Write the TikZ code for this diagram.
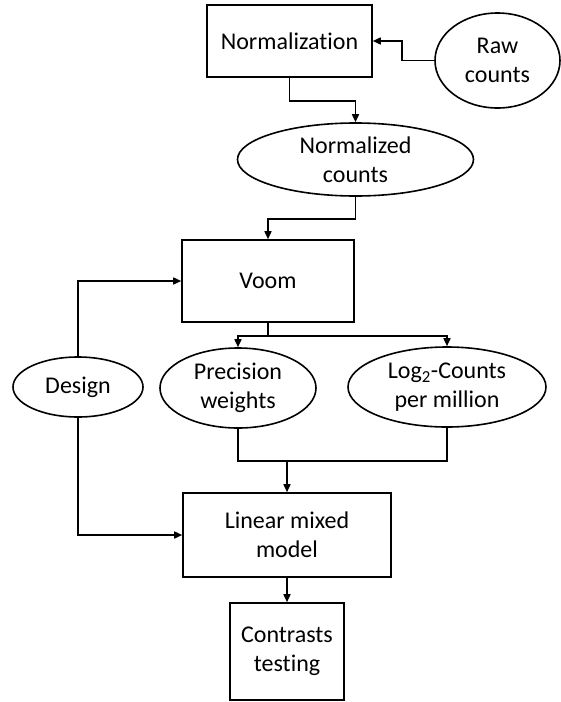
\documentclass[tikz,border=0pt]{standalone}
\usepackage{fontspec}
\setmainfont{Carlito}[Ligatures={NoCommon}]
\usetikzlibrary{shapes.geometric,arrows.meta}

\tikzset{
  every node/.style={font=\fontsize{24}{29}\selectfont, align=center, inner sep=0pt},
  procbox/.style={draw, rectangle, line width=1.6pt},
  databox/.style={draw, ellipse, line width=1.6pt},
  link/.style={line width=1.6pt},
  arr/.style={link, -{Triangle[length=8pt,width=7pt]}}
}

\begin{document}
\begin{tikzpicture}[x=1pt, y=-1pt]
  \useasboundingbox (0,0) rectangle (560,702);

  % processing steps
  \node[procbox, minimum width=165pt, minimum height=72pt] (norm) at (289.5,41) {Normalization};
  \node[procbox, minimum width=172pt, minimum height=82pt] (voom) at (268,281) {Voom};
  \node[procbox, minimum width=208pt, minimum height=84pt] (lmm) at (287,535) {Linear mixed\\model};
  \node[procbox, minimum width=114pt, minimum height=97pt] (contr) at (287,651.5) {Contrasts\\testing};

  % data objects
  \node[databox, minimum width=125pt, minimum height=95pt] (raw) at (497.5,60.5) {Raw\\counts};
  \node[databox, minimum width=236pt, minimum height=73pt] (ncounts) at (355.5,159.5) {Normalized\\counts};
  \node[databox, minimum width=130pt, minimum height=60pt] (design) at (78,387) {Design};
  \node[databox, minimum width=156pt, minimum height=80pt] (prec) at (238,388) {Precision\\weights};
  \node[databox, minimum width=198pt, minimum height=80pt] (logc) at (447,387) {Log\textsubscript{2}-Counts\\per million};

  % flow
  \draw[arr] (raw.west) -- ++(-32,0) |- (norm.east);
  \draw[arr] (norm.south) -- ++(0,23) -| (ncounts.north);
  \draw[arr] (ncounts.south) -- ++(0,22) -| (voom.north);
  \draw[arr] (voom.south) -- ++(0,13) -| (prec.north);
  \draw[arr] (voom.south) -- ++(0,13) -| (logc.north);
  \draw[arr] (design.north) |- (voom.west);
  \draw[arr] (design.south) |- (lmm.west);

  \coordinate (merge) at (287,461);
  \draw[link] (prec.south) |- (merge) -| (logc.south);
  \draw[arr] (merge) -- (lmm.north);
  \draw[arr] (lmm.south) -- (contr.north);
\end{tikzpicture}
\end{document}
